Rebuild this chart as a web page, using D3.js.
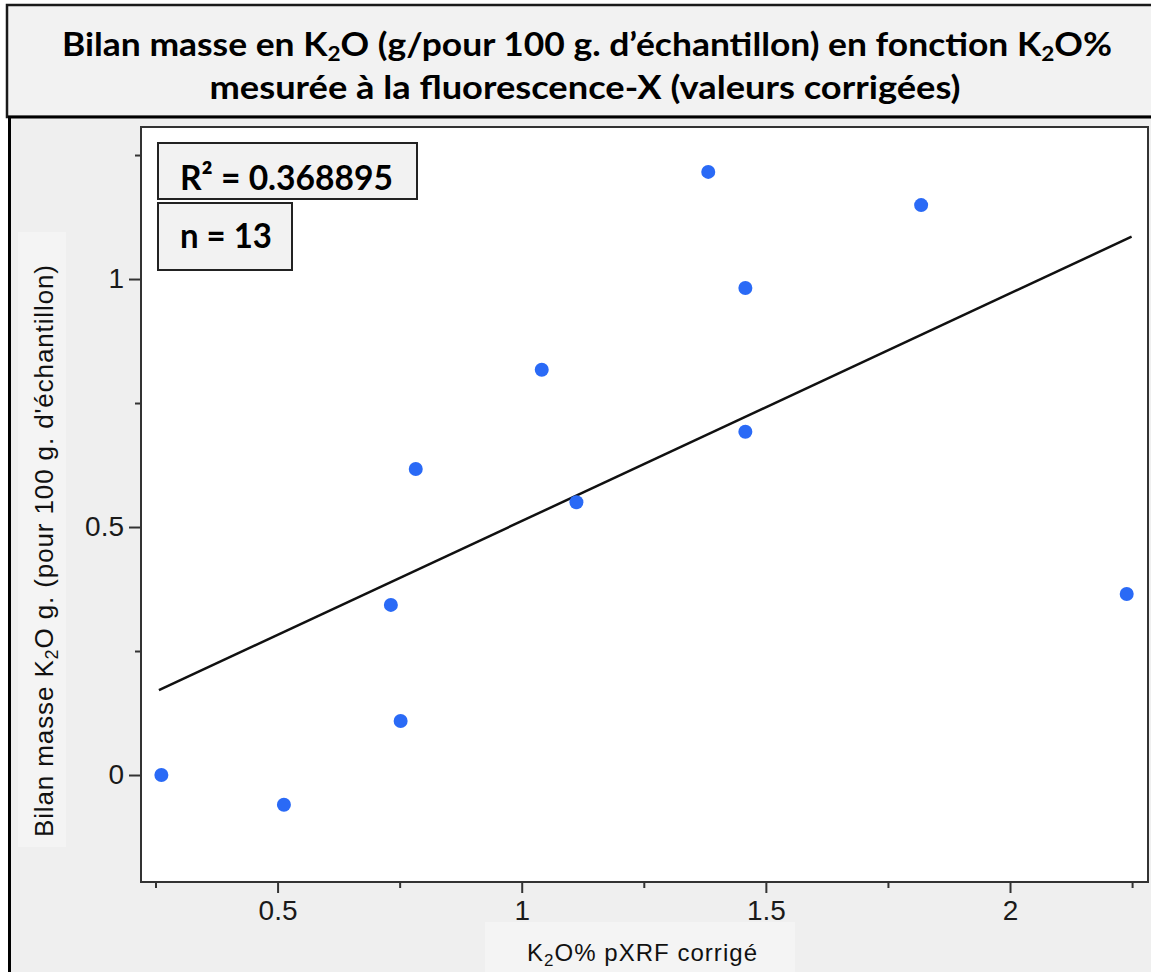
<!DOCTYPE html>
<html>
<head>
<meta charset="utf-8">
<script src="https://cdn.jsdelivr.net/npm/d3@7"></script>
<style>
  body { margin: 0; background: #ffffff; }
  svg { display: block; }
</style>
</head>
<body>
<div id="chart"></div>
<script>
// data
const k2o_pxrf = [0.262, 0.513, 0.732, 0.752, 0.783, 1.041, 1.112, 1.382, 1.458, 1.458, 1.818, 2.239];
const bilan_masse = [0.000, -0.060, 0.343, 0.109, 0.617, 0.817, 0.550, 1.216, 0.982, 0.692, 1.149, 0.365];
const fit_coef = [0.053, 0.459]; // intercept, slope
const x_major = [0.5, 1, 1.5, 2];
const x_minor = [0.25, 0.75, 1.25, 1.75, 2.25];
const y_major = [0, 0.5, 1];
const y_minor = [0.25, 0.75, 1.25];
const stats = ["R² = 0.368895", "n = 13"];

const width = 1151, height = 972;
const plot = {left: 141, right: 1148, top: 127, bottom: 882};

const svg = d3.select("#chart").append("svg")
  .attr("width", width)
  .attr("height", height);

// title box
svg.append("rect")
  .attr("x", 7).attr("y", 5)
  .attr("width", 1160).attr("height", 112)
  .attr("fill", "#f2f2f2")
  .attr("stroke", "#1a1a1a").attr("stroke-width", 2.5);

// chart panel
svg.append("rect")
  .attr("x", 9.5).attr("y", 117)
  .attr("width", 1160).attr("height", 870)
  .attr("fill", "#efefef")
  .attr("stroke", "#000").attr("stroke-width", 3);

// lighter patches behind the axis labels
svg.append("rect").attr("x", 18).attr("y", 232).attr("width", 48).attr("height", 615).attr("fill", "#f4f4f4");
svg.append("rect").attr("x", 485).attr("y", 922).attr("width", 310).attr("height", 50).attr("fill", "#f4f4f4");

// title, two lines, with K2O subscripts
function title_line(y, parts, len, cx) {
  let t = svg.append("text")
    .attr("x", cx).attr("y", y)
    .attr("text-anchor", "middle")
    .attr("font-family", "Lato, 'Open Sans', sans-serif")
    .attr("font-weight", "bold")
    .attr("font-size", 33)
    .attr("fill", "#000")
    .attr("textLength", len)
    .attr("lengthAdjust", "spacingAndGlyphs");
  parts.forEach(p => {
    if (p.sub) {
      t.append("tspan").attr("font-size", 21).attr("dy", 5).text(p.t);
    } else {
      t.append("tspan").attr("dy", p.after ? -5 : 0).text(p.t);
    }
  });
  return t;
}
title_line(56, [
  {t: "Bilan masse en K"}, {t: "2", sub: true},
  {t: "O (g/pour 100 g. d\u2019\u00e9chantillon) en fonction K", after: true}, {t: "2", sub: true},
  {t: "O%", after: true}
], 1050, 587);
title_line(99, [{t: "mesurée à la fluorescence-X (valeurs corrigées)"}], 751, 585);

// scales
const x = d3.scaleLinear().domain([0.2203, 2.2826]).range([plot.left, plot.right]);
const y = d3.scaleLinear().domain([-0.2157, 1.3065]).range([plot.bottom, plot.top]);

// plot area
svg.append("rect")
  .attr("x", plot.left).attr("y", plot.top)
  .attr("width", plot.right - plot.left).attr("height", plot.bottom - plot.top)
  .attr("fill", "#fff");

// axes
function style_axis(g) {
  g.select(".domain").remove();
  g.selectAll(".tick line").attr("stroke", "#333").attr("stroke-width", 2);
  g.selectAll(".tick text")
    .attr("fill", "#1a1a1a")
    .attr("font-family", "'Liberation Sans', Arial, sans-serif")
    .attr("font-size", 28);
}

svg.append("g")
  .attr("transform", `translate(0,${plot.bottom})`)
  .call(d3.axisBottom(x).tickValues(x_major).tickSize(11).tickPadding(7).tickFormat(d => d))
  .call(style_axis);
svg.append("g")
  .attr("transform", `translate(0,${plot.bottom})`)
  .call(d3.axisBottom(x).tickValues(x_minor).tickSize(6).tickFormat(""))
  .call(style_axis);
svg.append("g")
  .attr("transform", `translate(${plot.left},0)`)
  .call(d3.axisLeft(y).tickValues(y_major).tickSize(12).tickPadding(5).tickFormat(d => d))
  .call(style_axis);
svg.append("g")
  .attr("transform", `translate(${plot.left},0)`)
  .call(d3.axisLeft(y).tickValues(y_minor).tickSize(6).tickFormat(""))
  .call(style_axis);

// frame
svg.append("rect")
  .attr("x", plot.left).attr("y", plot.top)
  .attr("width", plot.right - plot.left).attr("height", plot.bottom - plot.top)
  .attr("fill", "none")
  .attr("stroke", "#333").attr("stroke-width", 2);

// regression line over the x range of the data
const xr = d3.extent(k2o_pxrf);
const fit_x = [xr[0] - 0.005, xr[1] + 0.01];
svg.append("line")
  .attr("x1", x(fit_x[0])).attr("y1", y(fit_coef[0] + fit_coef[1] * fit_x[0]))
  .attr("x2", x(fit_x[1])).attr("y2", y(fit_coef[0] + fit_coef[1] * fit_x[1]))
  .attr("stroke", "#111").attr("stroke-width", 2.5);

// points
svg.append("g").selectAll("circle")
  .data(d3.zip(k2o_pxrf, bilan_masse))
  .join("circle")
  .attr("cx", d => x(d[0]))
  .attr("cy", d => y(d[1]))
  .attr("r", 7)
  .attr("fill", "#2a6af6");

// stat boxes
const boxes = [
  {x: 158, y: 143, w: 259, h: 56, len: 213, by: 190},
  {x: 158, y: 203, w: 134, h: 67, len: 92, by: 248}
];
boxes.forEach((b, i) => {
  svg.append("rect")
    .attr("x", b.x).attr("y", b.y).attr("width", b.w).attr("height", b.h)
    .attr("fill", "#f2f2f2")
    .attr("stroke", "#222").attr("stroke-width", 2);
  svg.append("text")
    .attr("x", 180).attr("y", b.by)
    .attr("font-family", "Lato, 'Open Sans', sans-serif")
    .attr("font-weight", "bold")
    .attr("font-size", 34)
    .attr("textLength", b.len)
    .attr("lengthAdjust", "spacingAndGlyphs")
    .attr("fill", "#000")
    .text(stats[i]);
});

// axis titles
const ylab = svg.append("text")
  .attr("transform", "translate(53,551) rotate(-90)")
  .attr("text-anchor", "middle")
  .attr("font-family", "'Liberation Sans', Arial, sans-serif")
  .attr("font-size", 26)
  .attr("fill", "#111")
  .attr("textLength", 572)
  .attr("lengthAdjust", "spacing");
ylab.append("tspan").text("Bilan masse K");
ylab.append("tspan").attr("font-size", 18).attr("dy", 5).text("2");
ylab.append("tspan").attr("dy", -5).text("O g. (pour 100 g. d'échantillon)");

const xlab = svg.append("text")
  .attr("x", 642).attr("y", 961)
  .attr("text-anchor", "middle")
  .attr("font-family", "'Liberation Sans', Arial, sans-serif")
  .attr("font-size", 24)
  .attr("fill", "#111")
  .attr("textLength", 230)
  .attr("lengthAdjust", "spacing");
xlab.append("tspan").text("K");
xlab.append("tspan").attr("font-size", 17).attr("dy", 5).text("2");
xlab.append("tspan").attr("dy", -5).text("O% pXRF corrigé");
</script>
</body>
</html>
